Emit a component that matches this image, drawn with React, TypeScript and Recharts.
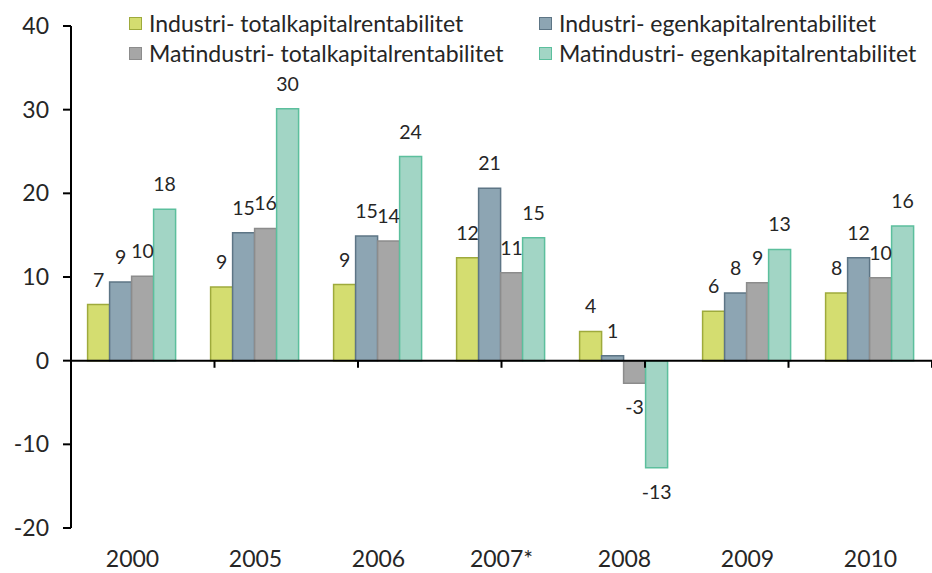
import React from 'react';
import { BarChart, Bar, XAxis, YAxis, ReferenceLine, LabelList } from 'recharts';

const categories = ['2000', '2005', '2006', '2007*', '2008', '2009', '2010'];
const industriTotal = [6.7, 8.8, 9.1, 12.3, 3.5, 5.9, 8.1];
const industriEgen = [9.4, 15.3, 14.9, 20.6, 0.6, 8.1, 12.3];
const matTotal = [10.1, 15.8, 14.3, 10.5, -2.7, 9.3, 9.9];
const matEgen = [18.1, 30.1, 24.4, 14.7, -12.8, 13.3, 16.1];

const seriesNames = [
  'Industri- totalkapitalrentabilitet',
  'Industri- egenkapitalrentabilitet',
  'Matindustri- totalkapitalrentabilitet',
  'Matindustri- egenkapitalrentabilitet',
];
const seriesKeys = ['it', 'ie', 'mt', 'me'];
const fills = ['#d4dd70', '#8da5b3', '#a6a6a6', '#a2d5c5'];
const strokes = ['#9eaa3c', '#5d7585', '#8c8c8c', '#5cbf9d'];
const yTicks = [-20, -10, 0, 10, 20, 30, 40];
const boundaries = [1, 2, 3, 4, 5, 6];

const data = categories.map((c, i) => ({
  cat: c,
  it: industriTotal[i],
  ie: industriEgen[i],
  mt: matTotal[i],
  me: matEgen[i],
}));

const FONT = 'Lato, "Open Sans", sans-serif';
const TEXT = '#262626';

const ValueLabel = (props: any) => {
  const { x, y, width, height, value } = props;
  const top = Math.min(y, y + height);
  const bottom = Math.max(y, y + height);
  const cx = x + width / 2;
  const v = Number(value);
  const ty = v >= 0 ? top - 18 : bottom + 31;
  return (
    <text x={cx} y={ty} textAnchor="middle" fontSize={19.5} fontFamily={FONT} fill={TEXT}>
      {Math.round(v)}
    </text>
  );
};

const XTick = (props: any) => {
  const { x, y, payload } = props;
  return (
    <text x={x} y={y + 39} textAnchor="middle" fontSize={23} fontFamily={FONT} fill={TEXT}>
      {payload.value}
    </text>
  );
};

const YTick = (props: any) => {
  const { x, y, payload } = props;
  return (
    <text x={x} y={y + 8} textAnchor="end" fontSize={23} fontFamily={FONT} fill={TEXT}>
      {payload.value}
    </text>
  );
};

const legendPos = [
  { left: 129, top: 23 },
  { left: 539, top: 23 },
  { left: 129, top: 53 },
  { left: 539, top: 53 },
];

export default function App() {
  return (
    <div style={{ position: 'absolute', left: 0, top: 0, width: 932, height: 573, background: '#fff', overflow: 'hidden' }}>
      <BarChart
        width={932}
        height={573}
        data={data}
        margin={{ top: 26, right: 0, left: 0, bottom: 0 }}
        barCategoryGap="13.5%"
        barGap={0}
      >
        <XAxis
          dataKey="cat"
          axisLine={false}
          tickLine={false}
          tickSize={0}
          tickMargin={0}
          height={45}
          tick={<XTick />}
          interval={0}
        />
        <XAxis xAxisId="n" type="number" domain={[0, 7]} hide allowDataOverflow />
        <YAxis
          domain={[-20, 40]}
          ticks={yTicks}
          width={71}
          axisLine={{ stroke: '#000', strokeWidth: 2 }}
          tickLine={{ stroke: '#000', strokeWidth: 2 }}
          tickSize={8}
          tickMargin={14}
          tick={<YTick />}
          interval={0}
          allowDataOverflow
        />
        {seriesKeys.map((k, i) => (
          <Bar
            key={k}
            dataKey={k}
            name={seriesNames[i]}
            fill={fills[i]}
            stroke={strokes[i]}
            strokeWidth={1.5}
            isAnimationActive={false}
          >
            <LabelList dataKey={k} content={<ValueLabel />} />
          </Bar>
        ))}
        <ReferenceLine y={0} stroke="#000" strokeWidth={2} />
        {boundaries.map((b) => (
          <ReferenceLine
            key={b}
            xAxisId="n"
            segment={[{ x: b, y: 0 }, { x: b, y: -0.85 }]}
            stroke="#000"
            strokeWidth={2}
          />
        ))}
      </BarChart>
      {seriesNames.map((n, i) => (
        <div
          key={n}
          style={{
            position: 'absolute',
            left: legendPos[i].left,
            top: legendPos[i].top - 14,
            height: 28,
            display: 'flex',
            alignItems: 'center',
            fontFamily: FONT,
            fontSize: 23,
            color: TEXT,
            whiteSpace: 'nowrap',
          }}
        >
          <span
            style={{
              display: 'inline-block',
              width: 11,
              height: 11,
              background: fills[i],
              border: `1.5px solid ${strokes[i]}`,
              marginRight: 7,
            }}
          />
          {n}
        </div>
      ))}
    </div>
  );
}
